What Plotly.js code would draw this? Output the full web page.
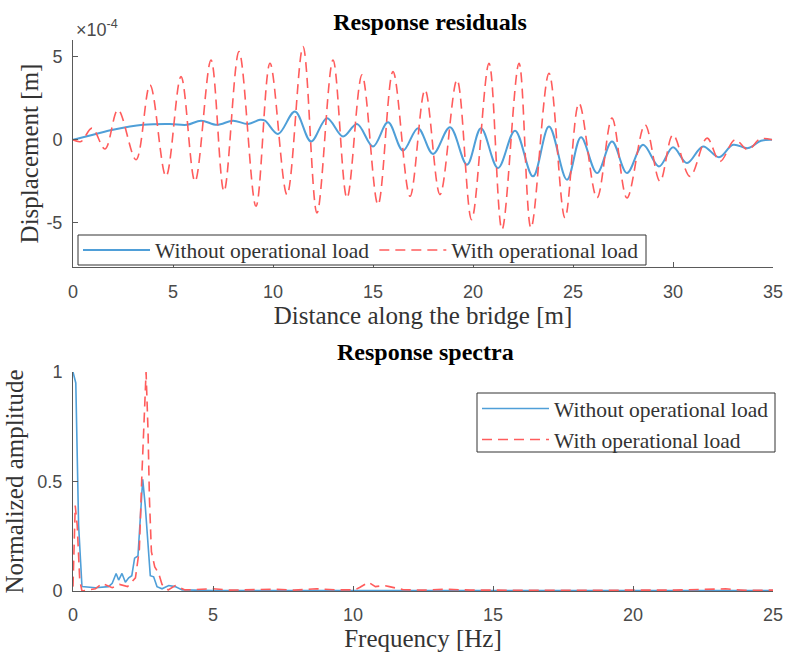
<!DOCTYPE html>
<html>
<head>
<meta charset="utf-8">
<script src="https://cdn.plot.ly/plotly-3.0.1.min.js"></script>
<style>html,body{margin:0;padding:0;background:#fff;}#chart{width:787px;height:654px;}</style>
</head>
<body>
<div id="chart"></div>
<script>
// ---------- Response residuals (displacement in m) ----------
const distNoLoad = [0, 1.0, 2.0, 3.5, 4.85, 5.7, 6.4, 7.2, 8.0, 8.75, 9.35, 9.6, 10.25, 11.1, 11.9, 12.7, 13.5, 14.2, 15.0, 15.75, 16.5, 17.25, 18.0, 18.85, 19.7, 20.4, 21.25, 22.1, 23.0, 23.8, 24.7, 25.4, 26.2, 26.95, 27.7, 28.5, 29.3, 30.0, 30.7, 31.5, 32.3, 33.0, 33.75, 34.4, 34.95];
const dispNoLoad = [0, 0.3e-4, 0.6e-4, 0.9e-4, 0.95e-4, 0.9e-4, 1.15e-4, 0.9e-4, 1.15e-4, 0.95e-4, 1.2e-4, 1.15e-4, 0.35e-4, 1.7e-4, -0.1e-4, 1.3e-4, 0.2e-4, 0.95e-4, -0.4e-4, 1.05e-4, -0.65e-4, 0.7e-4, -0.85e-4, 0.75e-4, -1.5e-4, 0.7e-4, -1.7e-4, 0.55e-4, -2.2e-4, 0.8e-4, -2.4e-4, 0.15e-4, -2.0e-4, -0.1e-4, -2.0e-4, -0.3e-4, -1.6e-4, -0.45e-4, -1.4e-4, -0.4e-4, -1.05e-4, -0.3e-4, -0.5e-4, -0.06e-4, 0];

const distLoad = [0, 0.4, 0.95, 1.6, 2.25, 3.15, 3.85, 4.65, 5.4, 6.1, 6.9, 7.55, 8.3, 9.15, 9.85, 10.7, 11.5, 12.2, 13.0, 13.7, 14.45, 15.25, 16.0, 16.85, 17.6, 18.35, 19.2, 19.93, 20.8, 21.45, 22.3, 22.9, 23.8, 24.6, 25.3, 26.2, 26.95, 27.7, 28.6, 29.35, 30.0, 30.85, 31.7, 32.35, 33.1, 33.75, 34.35, 34.95];
const dispLoad = [0, -0.1e-4, 0.7e-4, -0.55e-4, 1.8e-4, -1.2e-4, 3.3e-4, -2.2e-4, 3.8e-4, -2.5e-4, 4.8e-4, -3.1e-4, 5.3e-4, -4.0e-4, 4.6e-4, -3.3e-4, 5.6e-4, -4.4e-4, 4.8e-4, -3.5e-4, 3.9e-4, -3.9e-4, 4.1e-4, -3.4e-4, 3.0e-4, -3.3e-4, 3.6e-4, -4.8e-4, 4.6e-4, -5.4e-4, 4.6e-4, -5.3e-4, 4.0e-4, -4.7e-4, 2.2e-4, -3.5e-4, 1.3e-4, -3.5e-4, 0.9e-4, -2.5e-4, 0.3e-4, -2.2e-4, 0.1e-4, -1.3e-4, 0.0, -0.6e-4, 0.05e-4, 0];

const distTicks = [0, 5, 10, 15, 20, 25, 30, 35];
const dispTickVals = [-5e-4, 0, 5e-4];
const dispTickText = ['-5', '0', '5'];

// ---------- Response spectra (normalized amplitude) ----------
const freqNoLoad = [0, 0.1, 0.2, 0.32, 0.8, 1.27, 1.4, 1.54, 1.63, 1.75, 1.87, 1.99, 2.1, 2.2, 2.32, 2.4, 2.49, 2.58, 2.68, 2.76, 2.88, 3.0, 3.18, 3.42, 3.65, 3.9, 5, 10, 15, 20, 25];
const ampNoLoad = [1.0, 0.95, 0.3, 0.02, 0.015, 0.02, 0.035, 0.08, 0.05, 0.08, 0.04, 0.06, 0.07, 0.15, 0.16, 0.33, 0.51, 0.39, 0.19, 0.07, 0.065, 0.02, 0.01, 0.025, 0.02, 0.005, 0.002, 0.002, 0.002, 0.002, 0.002];

const freqLoad = [0, 0.08, 0.15, 0.24, 0.32, 0.8, 1.04, 1.4, 1.66, 1.95, 2.23, 2.37, 2.46, 2.56, 2.61, 2.68, 2.73, 2.8, 2.92, 3.06, 3.18, 3.4, 3.65, 4.0, 4.36, 5.0, 5.6, 6.5, 7.2, 7.9, 8.7, 9.4, 10.07, 10.25, 10.55, 10.8, 11.1, 11.3, 11.8, 12.5, 13.3, 14.2, 15.5, 17.0, 18.5, 20.0, 21.5, 23.3, 24.0, 25];
const ampLoad = [0.02, 0.39, 0.3, 0.05, 0.0, 0.01, 0.035, 0.015, 0.03, 0.02, 0.06, 0.19, 0.53, 0.83, 1.0, 0.73, 0.42, 0.18, 0.11, 0.08, 0.03, 0.005, 0.025, 0.005, 0.006, 0.01, 0.004, 0.008, 0.008, 0.004, 0.01, 0.005, 0.005, 0.017, 0.04, 0.02, 0.025, 0.02, 0.006, 0.004, 0.008, 0.004, 0.003, 0.004, 0.003, 0.004, 0.004, 0.01, 0.003, 0.004];

const freqTicks = [0, 5, 10, 15, 20, 25];
const ampTicks = [0, 0.5, 1];
const ampTickText = ['0', '0.5', '1'];

const names = ['Without operational load', 'With operational load'];

// ---------- styles ----------
const W = 787, H = 654;
const px = v => v / W;
const py = v => 1 - v / H;
const blue = '#4f9fd8';
const red = '#ff5c5c';
const serif = 'Liberation Serif, Times New Roman, serif';
const sans = 'Liberation Sans, Arial, sans-serif';
const axisColor = '#5a5a5a';

const traces = [
  {x: distNoLoad, y: dispNoLoad, xaxis: 'x', yaxis: 'y', mode: 'lines', name: names[0],
   line: {color: blue, width: 2, shape: 'spline', smoothing: 1}, legend: 'legend'},
  {x: distLoad, y: dispLoad, xaxis: 'x', yaxis: 'y', mode: 'lines', name: names[1],
   line: {color: red, width: 1.6, dash: '10px,6px', shape: 'spline', smoothing: 1}, legend: 'legend'},
  {x: freqNoLoad, y: ampNoLoad, xaxis: 'x2', yaxis: 'y2', mode: 'lines', name: names[0],
   line: {color: blue, width: 1.6}, legend: 'legend2'},
  {x: freqLoad, y: ampLoad, xaxis: 'x2', yaxis: 'y2', mode: 'lines', name: names[1],
   line: {color: red, width: 1.6, dash: '10px,6px'}, legend: 'legend2'}
];

const axBase = {
  showline: true, linecolor: axisColor, linewidth: 1, mirror: false,
  ticks: 'inside', ticklen: 5, tickcolor: axisColor, tickwidth: 1,
  showgrid: false, zeroline: false,
  tickfont: {family: sans, size: 18, color: '#4a4a4a'}
};
const axTitleFont = {family: serif, size: 25, color: '#333'};

const layout = {
  width: W, height: H,
  margin: {l: 0, r: 0, t: 0, b: 0},
  paper_bgcolor: '#fff', plot_bgcolor: '#fff',
  showlegend: true,
  title: {text: '<b>Response residuals</b>', x: px(430), xanchor: 'center', y: py(22), yanchor: 'middle',
          font: {family: serif, size: 24, color: '#000'}},
  xaxis: Object.assign({}, axBase, {
    domain: [px(73), px(773)], anchor: 'y', range: [0, 35], tickvals: distTicks,
    ticklabelstandoff: 8,
    title: {text: 'Distance along the bridge [m]', font: axTitleFont, standoff: 3}
  }),
  yaxis: Object.assign({}, axBase, {
    domain: [1 - 267 / H, 1 - 40 / H], anchor: 'x', range: [-7.65e-4, 6.0e-4],
    tickvals: dispTickVals, ticktext: dispTickText, ticklabelstandoff: 6,
    title: {text: 'Displacement [m]', font: axTitleFont, standoff: 0}
  }),
  xaxis2: Object.assign({}, axBase, {
    domain: [px(73), px(773)], anchor: 'y2', range: [0, 25], tickvals: freqTicks,
    ticklabelstandoff: 7,
    title: {text: 'Frequency [Hz]', font: axTitleFont, standoff: 0}
  }),
  yaxis2: Object.assign({}, axBase, {
    domain: [1 - 591 / H, 1 - 372 / H], anchor: 'x2', range: [0, 1],
    tickvals: ampTicks, ticktext: ampTickText, ticklabelstandoff: 6,
    title: {text: 'Normalized amplitude', font: axTitleFont, standoff: 6}
  }),
  legend: {
    orientation: 'h', x: px(78), xanchor: 'left', y: py(250), yanchor: 'middle',
    bgcolor: 'rgba(0,0,0,0)', borderwidth: 0,
    font: {family: serif, size: 21.5, color: '#333'}, itemwidth: 67, traceorder: 'normal'
  },
  legend2: {
    orientation: 'v', x: px(477), xanchor: 'left', y: py(424), yanchor: 'middle',
    bgcolor: 'rgba(0,0,0,0)', borderwidth: 0, tracegroupgap: 0,
    font: {family: serif, size: 21.5, color: '#333'}, itemwidth: 67, traceorder: 'normal'
  },
  shapes: [
    {type: 'rect', xref: 'paper', yref: 'paper', x0: px(78), x1: px(646), y0: py(265), y1: py(235),
     fillcolor: '#fff', line: {color: '#333', width: 1}, layer: 'above'},
    {type: 'rect', xref: 'paper', yref: 'paper', x0: px(477), x1: px(775), y0: py(452), y1: py(393),
     fillcolor: '#fff', line: {color: '#333', width: 1}, layer: 'above'}
  ],
  annotations: [
    {text: '<b>Response spectra</b>', xref: 'paper', yref: 'paper', x: px(425), y: py(352),
     xanchor: 'center', yanchor: 'middle', showarrow: false, font: {family: serif, size: 24, color: '#000'}},
    {text: '×10<sup>-4</sup>', xref: 'paper', yref: 'paper', x: px(74), y: py(28),
     xanchor: 'left', yanchor: 'middle', showarrow: false, font: {family: sans, size: 18, color: '#4a4a4a'}}
  ]
};

Plotly.newPlot('chart', traces, layout, {displayModeBar: false, staticPlot: true});
</script>
</body>
</html>
